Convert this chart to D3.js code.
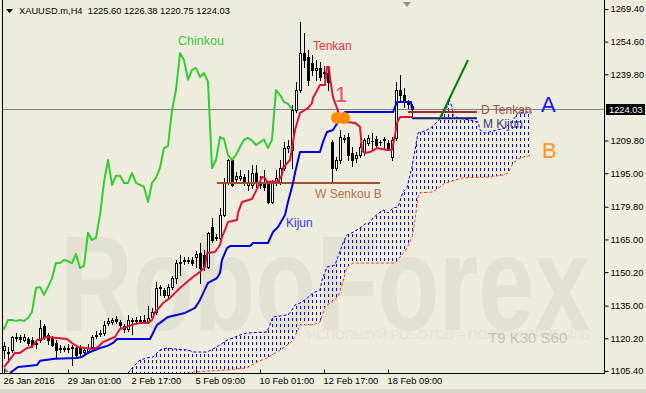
<!DOCTYPE html>
<html>
<head>
<meta charset="utf-8">
<script src="https://cdn.jsdelivr.net/npm/d3@7"></script>
<style>
  body { margin: 0; background: #eeecdc; }
  svg text { font-family: "Liberation Sans", Arial, sans-serif; }
</style>
</head>
<body>
<svg id="chart" width="646" height="393"></svg>
<script>
// ---- data ----
var symbol = "XAUUSD.m,H4";
var tickBars = [0, 16, 32, 48, 64, 80, 96];
var tickLabels = ["26 Jan 2016", "29 Jan 01:00", "2 Feb 17:00", "5 Feb 09:00", "10 Feb 01:00", "12 Feb 17:00", "18 Feb 09:00"];
var priceTicks = [1269.40, 1254.60, 1239.80, 1209.80, 1195.00, 1179.80, 1165.00, 1150.20, 1135.00, 1120.20, 1105.40];

var open = [1114.9,1114.0,1114.9,1120.4,1120.8,1119.4,1119.9,1119.4,1117.6,1119.4,
  1125.8,1121.7,1120.4,1118.1,1115.4,1115.4,1115.8,1115.8,1115.8,1116.3,
  1114.0,1114.5,1116.3,1121.3,1122.2,1122.6,1127.2,1127.6,1129.0,1127.6,
  1125.8,1124.4,1128.1,1128.5,1128.1,1128.5,1127.6,1129.9,1132.1,1143.0,
  1142.1,1139.9,1143.5,1147.5,1154.8,1155.2,1155.7,1155.7,1157.1,1158.9,
  1158.0,1152.5,1170.6,1166.1,1165.7,1176.1,1191.1,1201.0,1192.4,1192.9,
  1193.3,1189.7,1189.7,1195.1,1191.1,1190.6,1190.2,1182.0,1190.6,1191.1,
  1197.4,1206.4,1205.5,1223.6,1232.7,1249.5,1247.7,1245.0,1241.8,1242.7,
  1240.9,1240.4,1209.2,1197.4,1201.0,1211.0,1211.4,1204.2,1201.9,1203.3,
  1204.6,1208.7,1209.6,1210.5,1209.2,1210.1,1208.7,1202.4,1211.0,1232.7,
  1230.4,1227.3,1225.60];
var high = [1118.5,1116.3,1121.3,1122.6,1121.7,1122.2,1120.8,1120.8,1119.4,1128.5,
  1126.7,1122.6,1121.3,1119.4,1117.2,1116.7,1117.6,1117.2,1116.7,1117.2,
  1115.8,1117.6,1121.7,1123.5,1124.0,1128.1,1129.4,1129.4,1130.3,1128.5,
  1126.7,1130.8,1129.4,1129.9,1130.3,1130.8,1134.9,1134.0,1145.7,1144.4,
  1143.0,1144.8,1148.4,1155.7,1158.0,1157.1,1157.1,1157.1,1159.8,1163.4,
  1160.2,1168.4,1174.7,1167.5,1179.3,1192.9,1201.5,1201.9,1195.6,1196.5,
  1194.7,1196.5,1198.7,1198.7,1193.8,1196.5,1191.1,1192.0,1196.5,1201.0,
  1209.2,1210.1,1225.9,1236.4,1263.5,1258.5,1250.8,1248.6,1246.3,1245.4,
  1243.6,1242.7,1210.1,1202.4,1214.6,1212.3,1213.2,1206.9,1204.6,1208.7,
  1211.0,1212.3,1213.2,1211.9,1210.1,1211.4,1210.1,1211.4,1236.4,1239.5,
  1233.6,1228.2,1226.38];
var low = [1111.3,1109.5,1114.0,1119.0,1118.5,1119.0,1117.2,1116.3,1115.8,1118.5,
  1119.9,1117.6,1116.7,1111.3,1114.0,1114.5,1114.0,1108.1,1111.8,1112.2,
  1112.7,1113.6,1115.8,1120.4,1121.3,1121.7,1126.3,1126.7,1127.2,1124.9,
  1123.1,1123.5,1122.2,1127.2,1127.2,1127.6,1127.2,1129.0,1131.2,1139.9,
  1139.0,1139.0,1142.6,1145.3,1148.9,1153.9,1154.3,1153.4,1152.5,1145.3,
  1151.2,1152.1,1163.9,1164.8,1164.8,1175.6,1190.2,1189.3,1191.1,1192.0,
  1189.7,1187.4,1188.4,1188.8,1188.4,1187.4,1181.5,1181.5,1189.7,1190.2,
  1196.5,1204.6,1197.4,1222.7,1231.8,1243.1,1235.0,1239.5,1237.3,1237.3,
  1238.2,1232.7,1190.6,1196.5,1199.6,1209.2,1201.0,1198.3,1200.1,1202.4,
  1203.3,1207.8,1205.5,1206.9,1207.8,1206.4,1205.5,1201.0,1210.1,1228.2,
  1225.0,1224.5,1220.75];
var close = [1116.7,1113.6,1120.8,1120.8,1119.9,1120.8,1118.1,1117.2,1118.1,1124.9,
  1120.8,1119.4,1117.2,1114.9,1115.8,1115.8,1115.4,1116.3,1112.7,1113.6,
  1114.9,1115.8,1120.8,1121.7,1122.6,1126.3,1128.1,1128.5,1128.1,1126.3,
  1124.4,1128.5,1128.5,1128.1,1128.5,1128.1,1129.4,1132.1,1143.0,1143.5,
  1139.9,1143.5,1147.5,1154.3,1154.3,1155.7,1155.2,1154.3,1158.4,1152.1,
  1153.0,1168.0,1164.8,1165.7,1176.1,1191.1,1201.0,1189.7,1193.8,1193.8,
  1190.6,1190.6,1195.1,1190.6,1189.7,1188.8,1182.0,1190.6,1192.9,1197.4,
  1206.4,1207.3,1223.6,1232.7,1249.5,1246.3,1237.3,1241.8,1242.7,1238.6,
  1240.4,1236.4,1197.4,1201.0,1211.4,1210.5,1203.3,1201.0,1203.3,1206.9,
  1210.1,1211.0,1209.8,1207.8,1209.0,1210.3,1206.4,1210.1,1232.7,1230.4,
  1227.3,1226.4,1224.03];

// indicator lines, [bar, price] vertices
var tenkan = [[0,1107.2],[2.75,1113.6],[4,1113.6],[5.75,1115.8],[7,1116.3],[8.25,1119.4],[9.5,1119.9],[10.75,1120.8],
  [13.25,1120.4],[15.75,1119.9],[17,1118.1],[18.5,1116.3],[20.25,1115.8],[22.25,1115.4],[23.5,1116.3],[24.75,1118.5],
  [26.5,1119.9],[27.75,1120.8],[29,1124.4],[30.75,1125.4],[32,1126.3],[34,1127.2],[36,1127.2],[37,1128.5],[37.75,1132.1],
  [38.75,1134.0],[39.75,1136.2],[41.5,1138.5],[42.75,1140.8],[44,1143.0],[45.75,1145.7],[47.25,1148.0],[49,1150.3],
  [50.25,1152.5],[50.75,1158.9],[52.75,1159.3],[54,1162.5],[54.5,1166.1],[55.25,1169.3],[56,1172.9],[58.25,1173.8],
  [58.5,1177.0],[59.5,1182.0],[62,1183.3],[62.75,1186.1],[63.5,1188.8],[64.5,1193.3],[65.25,1192.9],[65.75,1191.1],
  [68.5,1191.1],[69.5,1194.2],[69.75,1197.4],[71.5,1201.0],[72.75,1214.6],[74,1222.3],[76,1224.5],[77,1226.8],
  [77.25,1229.1],[79,1235.0],[80.25,1235.0],[80.75,1243.1],[81.25,1243.1],[81.5,1238.2],[82.25,1229.5],[83.25,1224.5],
  [84,1220.5],[85.75,1218.2],[87.75,1217.8],[89,1216.0],[89.5,1205.5],[90.25,1204.2],[91.5,1204.6],[93.25,1206.4],
  [95.75,1205.5],[97,1205.5],[97.25,1207.8],[97.75,1212.3],[98.25,1217.8],[99,1220.5],[102,1220.5]];
var kijun = [[1.5,1104.5],[3.5,1107.2],[6,1107.7],[8.25,1108.1],[9,1110.0],[12.75,1110.9],[18.25,1111.3],[19.5,1111.8],
  [21,1113.6],[22.75,1114.9],[24,1115.8],[25.75,1116.7],[27.25,1118.1],[28.25,1119.9],[36.5,1119.9],[37.25,1122.6],
  [38.25,1126.3],[39,1127.2],[41,1129.9],[45.25,1131.7],[47.75,1134.0],[49,1137.6],[51,1145.3],[53.25,1147.5],
  [54,1149.8],[54.5,1155.7],[55.75,1161.1],[56.5,1162.0],[61.5,1162.0],[62.25,1163.4],[66,1163.4],[67.25,1168.4],
  [68.5,1170.6],[70.25,1176.1],[71,1182.0],[72.25,1190.6],[72.75,1195.1],[74,1204.6],[79,1204.6],[79.75,1209.2],
  [80.75,1213.7],[82.25,1214.6],[83.5,1218.2],[85.25,1222.7],[97.25,1222.7],[98.25,1227.3],[101.75,1227.3],[102,1223.6]];
var spanA = [[31,1104.5],[32.25,1107.2],[34,1110.4],[35.75,1111.3],[37.25,1111.8],[39,1114.9],[40.75,1115.8],[42.75,1115.4],
  [46,1114.9],[47.25,1114.0],[50.75,1114.0],[52.25,1115.4],[54,1117.2],[55.75,1119.4],[57.25,1120.4],[59,1121.7],
  [60.75,1122.6],[65.75,1123.1],[67.25,1129.9],[70.75,1130.8],[71.5,1131.7],[72.75,1135.3],[74,1136.2],[75.25,1137.6],
  [77.25,1140.8],[79,1142.1],[79.5,1146.6],[80.75,1152.5],[82.75,1153.4],[84.75,1163.4],[85.75,1167.0],[87,1168.0],
  [89,1170.2],[90.25,1172.0],[91.5,1172.5],[92.25,1174.7],[94,1177.4],[94.75,1178.4],[96,1177.0],[97.25,1179.3],
  [98.5,1179.7],[99.75,1186.5],[100.75,1188.4],[102,1197.8],[102.75,1205.5],[103.5,1213.2],[104.5,1213.7],[105.75,1214.6],
  [107,1216.0],[108.25,1218.2],[109.75,1221.4],[110.75,1225.0],[111.25,1228.6],[112,1225.0],[112.25,1221.4],[113.5,1220.0],
  [116.5,1219.1],[118.5,1218.2],[119,1214.6],[120.25,1213.2],[121.5,1213.7],[123.25,1214.6],[125.25,1215.5],[127.25,1219.1],
  [128.5,1222.3],[129.75,1222.7],[132,1222.7]];
var spanB = [[31,1100.0],[47.75,1105.0],[55.75,1105.9],[60.75,1106.8],[63.25,1109.5],[65.75,1111.3],[69,1114.9],[71.5,1118.1],
  [72.25,1119.4],[73.5,1124.0],[74,1126.3],[77.25,1126.3],[79,1127.6],[80.25,1134.4],[83.5,1139.0],[84.5,1144.4],
  [85.75,1152.5],[87.25,1154.3],[97.75,1154.3],[99.5,1158.0],[100.75,1161.1],[102,1166.1],[102.75,1173.8],[103.5,1184.3],
  [104,1186.1],[107.25,1186.5],[109,1188.8],[110.25,1190.6],[111.5,1191.1],[114.5,1192.9],[121.5,1193.3],[124.75,1194.2],
  [126,1195.1],[127.25,1199.6],[129,1201.9],[132,1203.3]];
var chinkouShift = 30;

// drawn levels
var wSenkouB = [[53.25,1190.6],[94,1190.6]];
var dTenkan = [[101,1222.7],[118.25,1222.7]];
var mKijun = [[102,1219.9],[118.25,1219.9]];
var trendLine = [[109,1219.9],[116,1246.3]];
var crossMarks = [[83.25,1220.0],[85,1220.0]];

// ---- drawing ----
var svg = d3.select("#chart");
var W = 646, H = 393, plotR = 604, plotB = 373;

var x = d3.scaleLinear().domain([0, 150]).range([4, 604]);
var y = d3.scaleLinear().domain([1105.4, 1269.4]).range([371, 9]);
var line = d3.line().x(function(d){ return x(d[0]); }).y(function(d){ return y(d[1]); });

svg.append("rect").attr("width", W).attr("height", H).attr("fill", "#eeecdc");
svg.append("rect").attr("x", 0).attr("y", 389).attr("width", W).attr("height", 4).attr("fill", "#d8d6cc");

var defs = svg.append("defs");
defs.append("clipPath").attr("id", "plot")
    .append("rect").attr("x", 3).attr("y", 0).attr("width", plotR - 3).attr("height", plotB);
var pat = defs.append("pattern").attr("id", "hatch")
    .attr("patternUnits", "userSpaceOnUse")
    .attr("x", x(0)).attr("y", 0).attr("width", 4).attr("height", 6);
pat.append("rect").attr("x", 0).attr("y", 0).attr("width", 1).attr("height", 3).attr("fill", "#0000ff");

// watermark
svg.append("text").attr("x", 60).attr("y", 330)
    .attr("font-size", 136).attr("font-weight", "bold")
    .attr("textLength", 530).attr("lengthAdjust", "spacingAndGlyphs")
    .attr("fill", "#e2e1d2").text("RoboForex");
svg.append("text").attr("x", 307).attr("y", 339)
    .attr("font-size", 13).attr("textLength", 283).attr("lengthAdjust", "spacingAndGlyphs")
    .attr("fill", "#e5e3d4").text("ИСПОЛЬЗУЙ РОБОТОВ – ПОЛУЧИ ПРИБЫЛЬ");
svg.append("text").attr("x", 488).attr("y", 343).attr("font-size", 15)
    .attr("fill", "#cdbfb5").text("T9 K30 S60");

var g = svg.append("g").attr("clip-path", "url(#plot)");

// cloud
var cloud = spanA.concat(spanB.slice().reverse());
g.append("path").attr("d", line(cloud) + "Z").attr("fill", "url(#hatch)");
g.append("path").attr("d", line(spanA)).attr("fill", "none")
    .attr("stroke", "#0000ff").attr("stroke-width", 1).attr("stroke-dasharray", "3,2");
g.append("path").attr("d", line(spanB)).attr("fill", "none")
    .attr("stroke", "#ff4500").attr("stroke-width", 1).attr("stroke-dasharray", "3,2");

// current price line
var last = close[close.length - 1];
var yLast = Math.round(y(last)) + 0.5;
g.append("line").attr("x1", 3).attr("x2", plotR).attr("y1", yLast).attr("y2", yLast)
    .attr("stroke", "#808080").attr("stroke-width", 1);

// candles
var bars = open.map(function(o, i){ return {i: i, o: o, h: high[i], l: low[i], c: close[i]}; });
var cg = g.append("g").attr("shape-rendering", "crispEdges");
cg.selectAll("line.wick").data(bars).enter().append("line")
    .attr("class", "wick")
    .attr("x1", function(d){ return x(d.i) + 0.5; })
    .attr("x2", function(d){ return x(d.i) + 0.5; })
    .attr("y1", function(d){ return Math.round(y(d.h)); })
    .attr("y2", function(d){ return Math.round(y(d.l)) + 1; })
    .attr("stroke", "#000");
cg.selectAll("rect.body").data(bars).enter().append("rect")
    .attr("class", "body")
    .attr("x", function(d){ return x(d.i) - 0.5; })
    .attr("y", function(d){ return Math.round(y(Math.max(d.o, d.c))) + 0.5; })
    .attr("width", 2)
    .attr("height", function(d){ return Math.max(0.01, Math.round(y(Math.min(d.o, d.c))) - Math.round(y(Math.max(d.o, d.c)))); })
    .attr("fill", function(d){ return d.c >= d.o ? "#ffffff" : "#000000"; })
    .attr("stroke", "#000").attr("stroke-width", 1);

// chinkou = close shifted back
var chinkou = close.map(function(c, i){ return [i - chinkouShift, c]; })
    .filter(function(d){ return d[0] >= -1; });

function addLine(data, color, width) {
  g.append("path").attr("d", line(data)).attr("fill", "none")
      .attr("stroke", color).attr("stroke-width", width).attr("stroke-linejoin", "round");
}
addLine(wSenkouB, "#a0522d", 2);
addLine(kijun, "#0000e0", 2);
addLine(tenkan, "#dc143c", 2);
addLine(chinkou, "#32cd32", 2);
addLine(dTenkan, "#a52a2a", 2);
addLine(mKijun, "#191970", 2);
addLine(trendLine, "#008000", 2);

g.selectAll("circle.cross").data(crossMarks).enter().append("circle")
    .attr("cx", function(d){ return x(d[0]); })
    .attr("cy", function(d){ return y(d[1]); })
    .attr("r", 6).attr("fill", "#ff8c00");

// labels on chart
function label(txt, px, py, size, color) {
  svg.append("text").attr("x", px).attr("y", py).attr("font-size", size)
      .attr("fill", color).text(txt);
}
label("Chinkou", 178, 45, 12.5, "#3cc83c");
label("Tenkan", 313, 50, 12, "#e0304e");
label("1", 335, 102, 22, "#e2506a");
label("Kijun", 286, 227, 12, "#3535ee");
label("W Senkou B", 315, 198, 12, "#b4704a");
label("D Tenkan", 481, 114, 12, "#a4483c");
label("M Kijun", 483, 128, 12, "#3a3a78");
label("A", 541, 112, 22, "#1414ff");
label("B", 542, 158, 22, "#ff981a");

// chart shift marker and corner mark
svg.append("path").attr("d", "M403,2 L411,2 L407,7 Z").attr("fill", "#909090");
svg.append("path").attr("d", "M4,366 L4,372 L9,372 Z").attr("fill", "#8a8a8a");

// frame
svg.append("line").attr("x1", 2.5).attr("x2", 2.5).attr("y1", 0).attr("y2", plotB).attr("stroke", "#000");
svg.append("line").attr("x1", plotR + 0.5).attr("x2", plotR + 0.5).attr("y1", 0).attr("y2", plotB + 1).attr("stroke", "#000");
svg.append("line").attr("x1", 0).attr("x2", plotR + 1).attr("y1", plotB + 0.5).attr("y2", plotB + 0.5).attr("stroke", "#000");

// right price axis
var yAxis = d3.axisRight(y).tickValues(priceTicks).tickSize(4).tickPadding(2)
    .tickFormat(d3.format(".2f"));
var ya = svg.append("g").attr("transform", "translate(" + (plotR + 0.5) + ",0)").call(yAxis);
ya.select(".domain").remove();
ya.selectAll("text").attr("font-size", 9.3).attr("font-family", "Liberation Sans, Arial, sans-serif").attr("fill", "#000");
ya.selectAll("line").attr("stroke", "#000");

// current price box
svg.append("rect").attr("x", 606).attr("y", Math.round(y(last)) - 5).attr("width", 39).attr("height", 11).attr("fill", "#000");
svg.append("text").attr("x", 609).attr("y", Math.round(y(last)) + 3.5).attr("font-size", 9.3)
    .attr("fill", "#fff").text(d3.format(".2f")(last));

// bottom time axis
var xAxis = d3.axisBottom(x).tickValues(tickBars).tickSize(-4)
    .tickFormat(function(d, i){ return tickLabels[i]; });
var xa = svg.append("g").attr("transform", "translate(0," + (plotB + 0.5) + ")").call(xAxis);
xa.select(".domain").remove();
xa.selectAll("line").attr("stroke", "#000");
xa.selectAll("text").attr("text-anchor", "start").attr("x", -1).attr("y", 10).attr("dy", null)
    .attr("font-size", 9.3).attr("font-family", "Liberation Sans, Arial, sans-serif").attr("fill", "#000");

// header
svg.append("path").attr("d", "M6,9 L13,9 L9.5,13 Z").attr("fill", "#000");
svg.append("text").attr("x", 19).attr("y", 14).attr("font-size", 9.3).attr("fill", "#000")
    .attr("xml:space", "preserve")
    .text(symbol + "  " + [open[open.length-1], high[high.length-1], low[low.length-1], last]
      .map(d3.format(".2f")).join(" "));
</script>
</body>
</html>
